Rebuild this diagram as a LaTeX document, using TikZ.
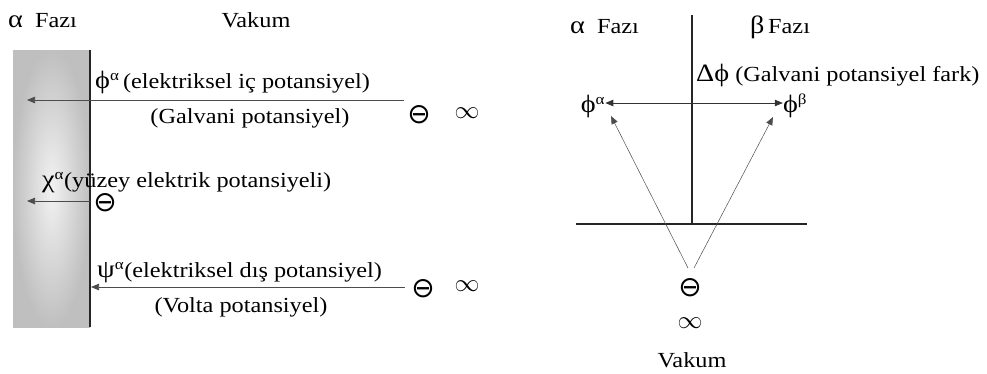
\documentclass[tikz,border=0pt]{standalone}
\usepackage{fontspec}
\setmainfont[FakeStretch=1.13]{Liberation Serif}
\newfontfamily\symfont{DejaVu Sans}
\usetikzlibrary{arrows.meta,positioning}
\newcommand{\gk}[1]{{\fontsize{25}{26}\selectfont #1}}
\tikzset{
  lbl/.style={font=\fontsize{21.5}{24}\selectfont, inner sep=0pt},
  symb/.style={font=\symfont\fontsize{28}{30}\selectfont, inner sep=0pt},
  infSymb/.style={font=\fontsize{26}{30}\selectfont, inner sep=0pt},
  potArrow/.style={-{Triangle[length=8pt,width=6.5pt]}, line width=0.7pt, black!70},
  diffArrow/.style={{Triangle[length=8pt,width=6.5pt]}-{Triangle[length=8pt,width=6.5pt]}, line width=0.7pt, black!80},
  wallLine/.style={line width=1.8pt, black!85}
}
\begin{document}
\begin{tikzpicture}[x=1pt,y=-1pt]
  \useasboundingbox (0,0) rectangle (987,373);

  % alpha phase against vacuum
  \node[lbl, anchor=base west] (alphaL) at (8,27) {\gk{α}\ \ Fazı};
  \node[lbl, anchor=base] (vakumL) at (256,27) {Vakum};
  \shade[inner color=gray!10, outer color=gray!50] (13,50) rectangle (90,327);
  \coordinate (wallTop) at (90,50);
  \coordinate (wallBot) at (90,327);
  \draw[wallLine] (wallTop) -- (wallBot);

  % inner potential
  \coordinate (phiStart) at (404,100);
  \coordinate (phiEnd) at (27,100);
  \draw[potArrow] (phiStart) -- (phiEnd);
  \node[lbl, anchor=base west] (phiTxt) at (95,88) {\gk{ϕ}\textsuperscript{α}\,(elektriksel iç potansiyel)};
  \node[lbl, anchor=base] (galvTxt) at (250,123) {(Galvani potansiyel)};
  \node[symb] (minusA) at (419,115) {⊖};
  \node[infSymb] (infA) at (467,113) {$\infty$};

  % surface potential
  \coordinate (chiStart) at (90,201);
  \coordinate (chiEnd) at (27,201);
  \draw[potArrow] (chiStart) -- (chiEnd);
  \node[symb] (minusB) at (105,203) {⊖};
  \node[lbl, anchor=base west] (chiTxt) at (42,187) {\gk{χ}\textsuperscript{α}(yüzey elektrik potansiyeli)};

  % outer potential
  \coordinate (psiStart) at (405,287);
  \coordinate (psiEnd) at (91,287);
  \draw[potArrow] (psiStart) -- (psiEnd);
  \node[lbl, anchor=base west] (psiTxt) at (97,277) {\gk{ψ}\textsuperscript{α}(elektriksel dış potansiyel)};
  \node[lbl, anchor=base] (voltaTxt) at (241,312) {(Volta potansiyel)};
  \node[symb] (minusC) at (423,289) {⊖};
  \node[infSymb] (infC) at (467,286) {$\infty$};

  % alpha / beta interface
  \node[lbl, anchor=base west] (alphaR) at (570,33) {\gk{α}\ \ Fazı};
  \node[lbl, anchor=base west] (betaR) at (750,33) {\gk{β}\,Fazı};
  \coordinate (ifTop) at (692,15);
  \coordinate (ifBot) at (692,224);
  \coordinate (floorL) at (576,224);
  \coordinate (floorR) at (807,224);
  \draw[wallLine] (ifTop) -- (ifBot);
  \draw[wallLine] (floorL) -- (floorR);
  \node[lbl, anchor=base west] (deltaTxt) at (696,81) {\gk{Δϕ} (Galvani potansiyel fark)};
  \node[lbl] (phiA) at (593,106) {\gk{ϕ}\textsuperscript{α}};
  \node[lbl] (phiB) at (795,106) {\gk{ϕ}\textsuperscript{β}};
  \draw[diffArrow] (phiA.east |- 0,103) -- (phiB.west |- 0,103);

  % vacuum reference
  \node[symb] (minusV) at (690,288) {⊖};
  \node[infSymb] (infV) at (690,323) {$\infty$};
  \node[lbl] (vakumR) at (692,360) {Vakum};
  \coordinate (tipA) at (611,116);
  \coordinate (tipB) at (773,117);
  \coordinate (vacL) at (688,268);
  \coordinate (vacR) at (694,268);
  \draw[potArrow, line width=0.5pt] (vacL) -- (tipA);
  \draw[potArrow, line width=0.5pt] (vacR) -- (tipB);
\end{tikzpicture}
\end{document}
